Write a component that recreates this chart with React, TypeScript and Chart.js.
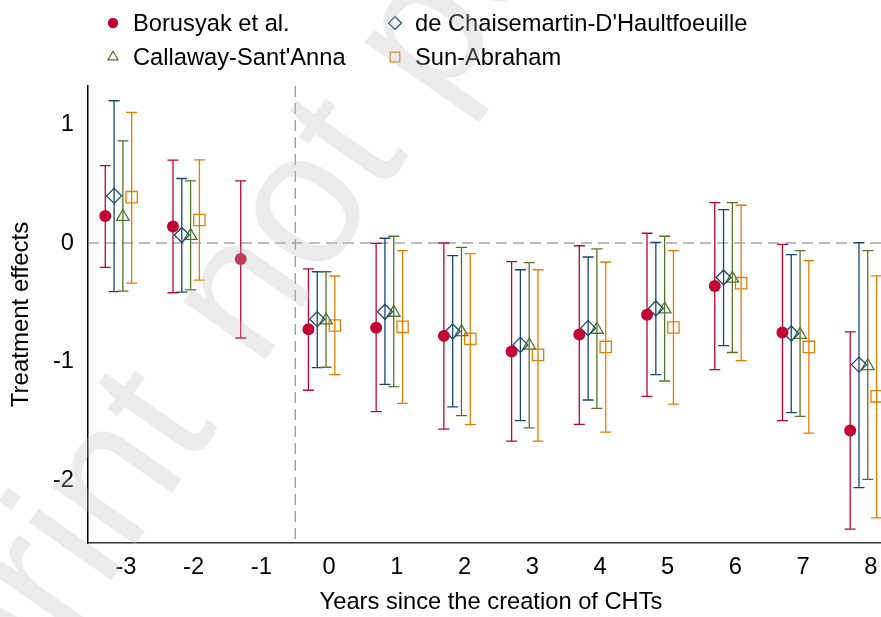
import React, { useEffect, useRef } from 'react';
import { Chart, registerables } from 'chart.js';
import { drawPoint } from 'chart.js/helpers';

Chart.register(...registerables);

// ---------- data ----------
const years = [-3, -2, -1, 0, 1, 2, 3, 4, 5, 6, 7, 8];
const xTickValues = [-3, -2, -1, 0, 1, 2, 3, 4, 5, 6, 7, 8];
const xTickLabels = ['-3', '-2', '-1', '0', '1', '2', '3', '4', '5', '6', '7', '8'];
const yTickValues = [-2, -1, 0, 1];

const seriesNames = [
  'Borusyak et al.',
  "de Chaisemartin-D'Haultfoeuille",
  "Callaway-Sant'Anna",
  'Sun-Abraham',
];

const borusyakEst = [0.228, 0.138, -0.135, -0.726, -0.714, -0.782, -0.914, -0.771, -0.605, -0.363, -0.754, -1.578];
const borusyakLo = [-0.205, -0.419, -0.8, -1.24, -1.42, -1.567, -1.668, -1.527, -1.291, -1.066, -1.496, -2.41];
const borusyakHi = [0.652, 0.698, 0.523, -0.217, -0.003, 0.0, -0.157, -0.023, 0.082, 0.34, -0.011, -0.748];

const chaisemartinEst = [0.397, 0.068, null, -0.641, -0.579, -0.745, -0.858, -0.717, -0.551, -0.29, -0.762, -1.024];
const chaisemartinLo = [-0.41, -0.414, null, -1.049, -1.19, -1.38, -1.496, -1.322, -1.108, -0.864, -1.429, -2.059];
const chaisemartinHi = [1.198, 0.543, null, -0.242, 0.04, -0.107, -0.225, -0.118, 0.006, 0.281, -0.098, 0.003];

const callawayEst = [0.221, 0.061, null, -0.651, -0.586, -0.749, -0.862, -0.729, -0.558, -0.299, -0.772, -1.036];
const callawayLo = [-0.405, -0.394, null, -1.046, -1.21, -1.454, -1.556, -1.392, -1.162, -0.922, -1.46, -1.99];
const callawayHi = [0.86, 0.523, null, -0.242, 0.057, -0.037, -0.166, -0.05, 0.057, 0.34, -0.065, -0.065];

const sunAbrahamEst = [0.386, 0.194, null, -0.695, -0.706, -0.807, -0.942, -0.875, -0.712, -0.338, -0.875, -1.291];
const sunAbrahamLo = [-0.338, -0.312, null, -1.108, -1.35, -1.53, -1.668, -1.592, -1.356, -0.99, -1.6, -2.315];
const sunAbrahamHi = [1.1, 0.7, null, -0.278, -0.065, -0.09, -0.225, -0.16, -0.065, 0.318, -0.149, -0.276];

const xTitle = 'Years since the creation of CHTs';
const yTitle = 'Treatment effects';
const watermarkFirst = 'Preprint';
const watermarkRest = 'not peer reviewed';

// ---------- styling ----------
const FONT = '"Liberation Sans", Arial, Helvetica, sans-serif';
const colors = ['#c10534', '#1a476f', '#55752f', '#e37e00'];
const offsets = [-0.305, -0.175, -0.045, 0.085];
const styles = ['circle', 'rectRot', 'triangle', 'rect'];
const radii = [6, 7.5, 7.3, 8];
const legendRadii = [5.2, 6.5, 5.8, 6.8];

function buildData(est: (number | null)[], lo: (number | null)[], hi: (number | null)[], off: number) {
  const out: { x: number; y: number; lo: number; hi: number }[] = [];
  years.forEach((yr, i) => {
    const e = est[i];
    if (e === null || e === undefined) return;
    out.push({ x: yr + off, y: e, lo: lo[i] as number, hi: hi[i] as number });
  });
  return out;
}

const refLinesPlugin = {
  id: 'refLines',
  beforeDatasetsDraw(chart: any) {
    const { ctx, chartArea, scales } = chart;
    const x = scales.x, y = scales.y;
    ctx.save();
    ctx.strokeStyle = '#7a7a7a';
    ctx.lineWidth = 1;
    ctx.setLineDash([11, 6]);
    const y0 = y.getPixelForValue(0);
    ctx.beginPath();
    ctx.moveTo(chartArea.left, y0);
    ctx.lineTo(chartArea.right, y0);
    ctx.stroke();
    const xv = x.getPixelForValue(-0.5);
    ctx.beginPath();
    ctx.moveTo(xv, chartArea.top);
    ctx.lineTo(xv, chartArea.bottom);
    ctx.stroke();
    ctx.restore();
  },
};

const errorBarsPlugin = {
  id: 'errorBars',
  beforeDatasetsDraw(chart: any) {
    const { ctx, scales } = chart;
    const y = scales.y;
    chart.data.datasets.forEach((ds: any, di: number) => {
      const meta = chart.getDatasetMeta(di);
      ctx.save();
      ctx.strokeStyle = ds.borderColor;
      ctx.lineWidth = 1.3;
      meta.data.forEach((pt: any, j: number) => {
        const d = ds.data[j];
        const px = pt.x;
        const yl = y.getPixelForValue(d.lo);
        const yh = y.getPixelForValue(d.hi);
        ctx.beginPath();
        ctx.moveTo(px, yl);
        ctx.lineTo(px, yh);
        ctx.moveTo(px - 5.5, yl);
        ctx.lineTo(px + 5.5, yl);
        ctx.moveTo(px - 5.5, yh);
        ctx.lineTo(px + 5.5, yh);
        ctx.stroke();
      });
      ctx.restore();
    });
  },
};

const xAxisTextPlugin = {
  id: 'xAxisText',
  afterDraw(chart: any) {
    const { ctx, scales } = chart;
    const x = scales.x;
    ctx.save();
    ctx.fillStyle = '#000';
    ctx.font = `23.7px ${FONT}`;
    ctx.textAlign = 'center';
    ctx.textBaseline = 'alphabetic';
    xTickValues.forEach((v, i) => {
      ctx.fillText(xTickLabels[i], x.getPixelForValue(v), 574);
    });
    ctx.fillText(xTitle, 491, 609);
    ctx.restore();
  },
};

const legendPlugin = {
  id: 'customLegend',
  afterDraw(chart: any) {
    const { ctx } = chart;
    const pos = [
      [113, 23],
      [395, 23],
      [113, 57],
      [395, 57],
    ];
    ctx.save();
    [0, 1, 2, 3].forEach((si, k) => {
      const [mx, my] = pos[k];
      ctx.strokeStyle = colors[si];
      ctx.fillStyle = si === 0 ? colors[si] : 'rgba(0,0,0,0)';
      ctx.lineWidth = 1.2;
      drawPoint(ctx, { pointStyle: styles[si] as any, radius: legendRadii[si], rotation: 0, borderWidth: si === 0 ? 0 : 1.2 }, mx, my);
      ctx.fillStyle = '#000';
      ctx.font = `23.7px ${FONT}`;
      ctx.textAlign = 'left';
      ctx.textBaseline = 'middle';
      ctx.fillText(seriesNames[si], mx + 20, my + 1);
    });
    ctx.restore();
  },
};

const watermarkPlugin = {
  id: 'watermark',
  afterDraw(chart: any) {
    const { ctx } = chart;
    const S = 190;
    ctx.save();
    ctx.fillStyle = 'rgba(190,190,190,0.3)';
    ctx.font = `${S}px ${FONT}`;
    ctx.translate(258, 370);
    ctx.rotate((-55 * Math.PI) / 180);
    ctx.textBaseline = 'alphabetic';
    ctx.textAlign = 'right';
    ctx.fillText(watermarkFirst, -0.36 * S, 0);
    ctx.textAlign = 'left';
    ctx.fillText(watermarkRest, 0, 0);
    ctx.restore();
  },
};

export default function App() {
  const ref = useRef<HTMLCanvasElement>(null);
  useEffect(() => {
    document.body.style.margin = '0';
    const canvas = ref.current!;
    const ests = [borusyakEst, chaisemartinEst, callawayEst, sunAbrahamEst];
    const los = [borusyakLo, chaisemartinLo, callawayLo, sunAbrahamLo];
    const his = [borusyakHi, chaisemartinHi, callawayHi, sunAbrahamHi];
    const datasets = seriesNames.map((name, i) => ({
      type: 'scatter' as const,
      label: name,
      data: buildData(ests[i], los[i], his[i], offsets[i]),
      pointStyle: styles[i],
      pointRadius: radii[i],
      pointHoverRadius: radii[i],
      backgroundColor: i === 0 ? colors[i] : 'rgba(0,0,0,0)',
      borderColor: colors[i],
      pointBorderColor: colors[i],
      pointBorderWidth: i === 0 ? 0 : 1.3,
      showLine: false,
      clip: false as any,
    }));

    const chart = new Chart(canvas, {
      type: 'scatter',
      data: { datasets },
      options: {
        animation: false,
        responsive: false,
        devicePixelRatio: 1,
        layout: { autoPadding: false, padding: { top: 86, left: 0, right: 0, bottom: 0 } },
        plugins: {
          legend: { display: false },
          tooltip: { enabled: false },
        },
        scales: {
          x: {
            type: 'linear',
            min: -3.56,
            max: 8.15,
            afterBuildTicks: (s: any) => {
              s.ticks = xTickValues.map((v) => ({ value: v }));
            },
            afterFit: (s: any) => {
              s.height = 617 - 543;
            },
            grid: { display: true, drawOnChartArea: false, drawTicks: false, color: 'rgba(0,0,0,0)' },
            border: { display: true, color: '#333333', width: 1.5 },
            ticks: { display: false },
            title: { display: false, text: xTitle },
          },
          y: {
            type: 'linear',
            min: -2.526,
            max: 1.322,
            afterBuildTicks: (s: any) => {
              s.ticks = yTickValues.map((v) => ({ value: v }));
            },
            afterFit: (s: any) => {
              s.width = 88;
            },
            grid: { display: true, drawOnChartArea: false, drawTicks: false, color: 'rgba(0,0,0,0)' },
            border: { display: true, color: '#000000', width: 1.5 },
            ticks: {
              color: '#000',
              font: { family: FONT, size: 23.7 },
              padding: 14,
              callback: (v: any) => String(v),
            },
            title: {
              display: true,
              text: yTitle,
              color: '#000',
              font: { family: FONT, size: 24 },
              padding: { top: 7, bottom: 0 },
            },
          },
        },
      },
      plugins: [refLinesPlugin, errorBarsPlugin, xAxisTextPlugin, legendPlugin, watermarkPlugin],
    });
    return () => chart.destroy();
  }, []);

  return (
    <div style={{ width: 881, height: 617, position: 'relative', background: '#fff' }}>
      <canvas ref={ref} width={881} height={617} style={{ display: 'block', width: 881, height: 617 }} />
    </div>
  );
}
